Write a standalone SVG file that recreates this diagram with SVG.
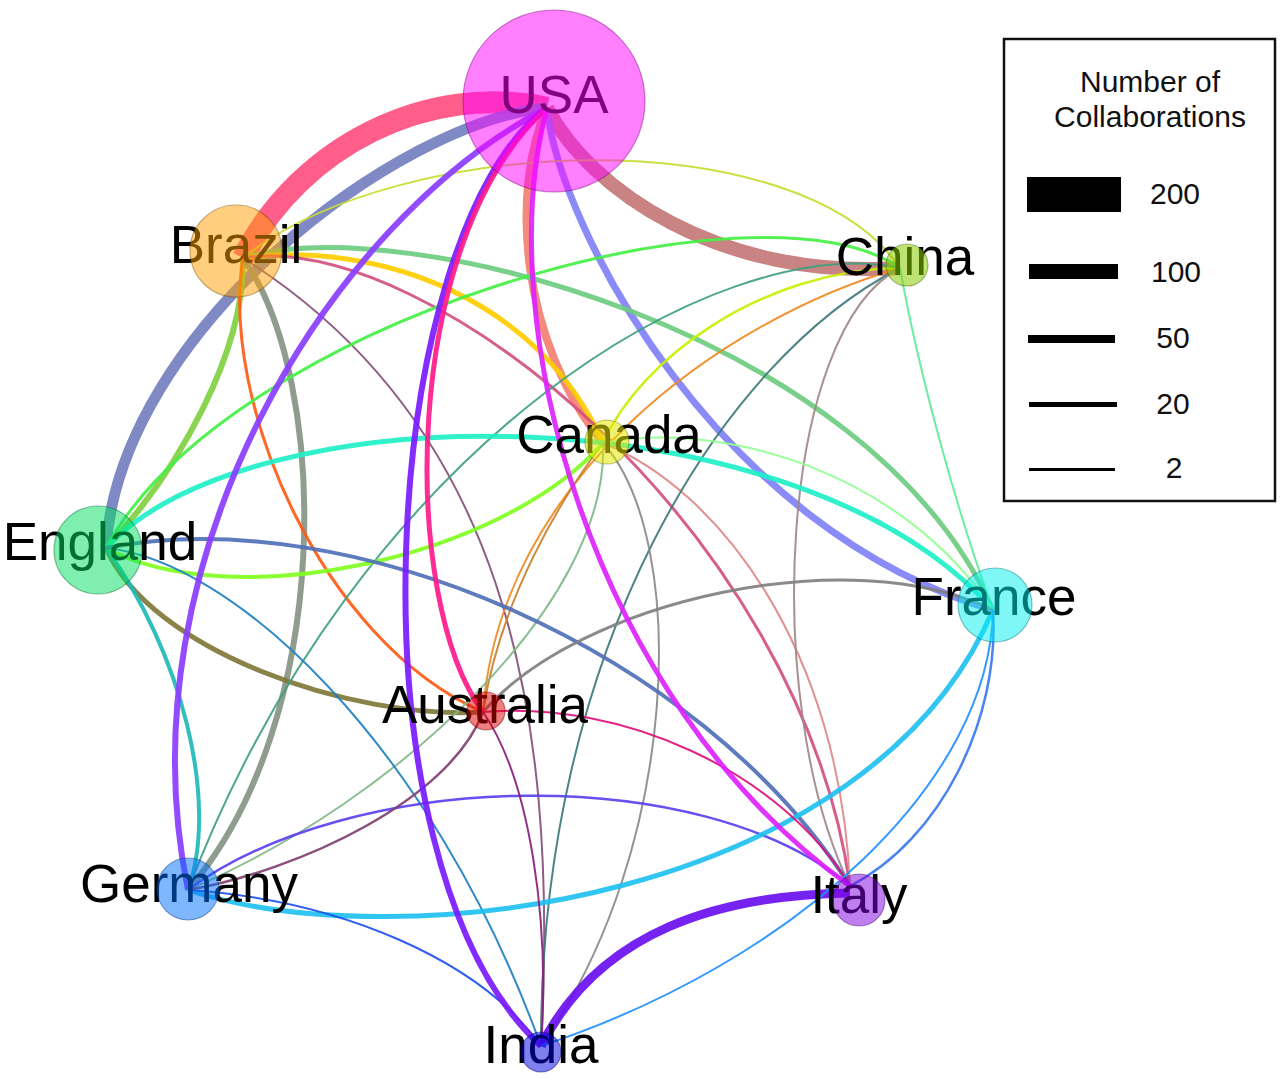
<svg xmlns="http://www.w3.org/2000/svg" width="1280" height="1079" viewBox="0 0 1280 1079">
<style>
.e{fill:none;stroke-linecap:butt;stroke-opacity:0.92}
.lbl{font-family:"Liberation Sans",Arial,sans-serif;font-size:53px;fill:#000;text-anchor:middle}
.n{stroke-width:1.2;stroke-opacity:0.45}
.lg{font-family:"Liberation Sans",Arial,sans-serif;font-size:30px;fill:#111;text-anchor:middle}
</style>
<rect width="1280" height="1079" fill="#fff"/>
<g id="connectors">
<path class="e" d="M547,108 C430,82 300,145 243,258" stroke="#ff5080" stroke-width="22"/>
<path class="e" d="M547,108 C400,120 120,330 106,548" stroke="#7480c0" stroke-width="11"/>
<path class="e" d="M547,108 C590,190 720,280 900,268" stroke="#c47878" stroke-width="14"/>
<path class="e" d="M547,108 C560,230 720,530 993,610" stroke="#8080f8" stroke-width="7"/>
<path class="e" d="M547,108 C510,190 520,340 603,443" stroke="#f28070" stroke-width="8"/>
<path class="e" d="M243,258 C245,350 180,470 106,548" stroke="#80d040" stroke-width="6"/>
<path class="e" d="M243,258 C330,380 335,720 188,890" stroke="#859585" stroke-width="6"/>
<path class="e" d="M106,548 C150,650 350,720 483,712" stroke="#807838" stroke-width="5"/>
<path class="e" d="M243,258 C400,132 800,120 900,268" stroke="#c8dc30" stroke-width="2"/>
<path class="e" d="M243,258 C400,210 870,330 993,610" stroke="#6ccc80" stroke-width="5"/>
<path class="e" d="M243,258 C380,240 540,300 603,443" stroke="#ffcc00" stroke-width="5"/>
<path class="e" d="M243,258 C430,230 800,530 850,886" stroke="#d25080" stroke-width="3"/>
<path class="e" d="M603,443 C720,490 840,650 850,886" stroke="#e08888" stroke-width="2"/>
<path class="e" d="M243,258 C500,420 560,700 541,1046" stroke="#84507a" stroke-width="2"/>
<path class="e" d="M243,258 C220,400 320,640 483,712" stroke="#ff5a14" stroke-width="3"/>
<path class="e" d="M900,268 C760,170 230,320 106,548" stroke="#44f044" stroke-width="3"/>
<path class="e" d="M900,268 C760,270 640,360 603,443" stroke="#c8f000" stroke-width="2.5"/>
<path class="e" d="M900,268 C720,320 500,480 483,712" stroke="#f08a20" stroke-width="2"/>
<path class="e" d="M603,443 C560,500 500,600 483,712" stroke="#c88030" stroke-width="2"/>
<path class="e" d="M900,268 C720,230 360,440 188,890" stroke="#40a080" stroke-width="2"/>
<path class="e" d="M900,268 C720,360 540,650 541,1046" stroke="#3f7a7a" stroke-width="2"/>
<path class="e" d="M900,268 C780,330 760,700 850,886" stroke="#a08888" stroke-width="2"/>
<path class="e" d="M900,268 C920,380 960,520 993,610" stroke="#60ec98" stroke-width="2"/>
<path class="e" d="M603,443 C500,560 230,615 106,548" stroke="#80ff20" stroke-width="4"/>
<path class="e" d="M106,548 C250,390 800,390 993,610" stroke="#20f0c8" stroke-width="5"/>
<path class="e" d="M603,443 C720,420 900,470 993,610" stroke="#90ff90" stroke-width="2"/>
<path class="e" d="M603,443 C610,600 400,800 188,890" stroke="#80b888" stroke-width="2"/>
<path class="e" d="M603,443 C690,540 680,850 541,1046" stroke="#8a8a8a" stroke-width="2"/>
<path class="e" d="M106,548 C180,650 220,800 188,890" stroke="#20b8b8" stroke-width="4"/>
<path class="e" d="M106,548 C230,560 430,740 541,1046" stroke="#2080c0" stroke-width="2"/>
<path class="e" d="M106,548 C350,500 700,650 850,886" stroke="#5070b8" stroke-width="4"/>
<path class="e" d="M188,890 C350,770 700,760 850,886" stroke="#5a40f0" stroke-width="2.5"/>
<path class="e" d="M188,890 C400,960 870,900 993,610" stroke="#20c0f0" stroke-width="5"/>
<path class="e" d="M188,890 C340,900 480,960 541,1046" stroke="#2050f0" stroke-width="2"/>
<path class="e" d="M483,712 C450,800 300,870 188,890" stroke="#804070" stroke-width="2.5"/>
<path class="e" d="M483,712 C620,700 780,770 850,886" stroke="#e0107a" stroke-width="2"/>
<path class="e" d="M483,712 C580,600 850,540 993,610" stroke="#808080" stroke-width="3"/>
<path class="e" d="M483,712 C530,780 550,920 541,1046" stroke="#8a2080" stroke-width="2"/>
<path class="e" d="M541,1046 C600,930 720,895 850,893" stroke="#6a10f0" stroke-width="9"/>
<path class="e" d="M993,610 C1000,720 940,840 850,886" stroke="#3a78f0" stroke-width="2.5"/>
<path class="e" d="M993,610 C990,780 800,960 541,1046" stroke="#2090ff" stroke-width="2"/>
<path class="e" d="M547,108 C330,220 120,560 188,890" stroke="#8a3cff" stroke-width="6"/>
<path class="e" d="M547,108 C380,230 340,860 541,1046" stroke="#7a1aff" stroke-width="6"/>
<path class="e" d="M547,108 C400,240 400,600 483,712" stroke="#ff1a8c" stroke-width="5"/>
<path class="e" d="M547,108 C490,320 590,700 850,886" stroke="#dd22ff" stroke-width="5"/>
</g>
<g id="node-usa"><text class="lbl" x="554" y="113">USA</text><circle class="n" cx="554" cy="101" r="91" fill="#ff00ff" fill-opacity="0.5" stroke="#800080"/></g>
<g id="node-brazil"><text class="lbl" x="236" y="263">Brazil</text><circle class="n" cx="236" cy="251" r="46" fill="#ffa000" fill-opacity="0.5" stroke="#805000"/></g>
<g id="node-china"><text class="lbl" x="905" y="275">China</text><circle class="n" cx="907" cy="265" r="21" fill="#88cc00" fill-opacity="0.55" stroke="#406000"/></g>
<g id="node-canada"><text class="lbl" x="609" y="453">Canada</text><circle class="n" cx="607" cy="442" r="22" fill="#e6e600" fill-opacity="0.55" stroke="#707000"/></g>
<g id="node-england"><text class="lbl" x="100" y="560">England</text><circle class="n" cx="98" cy="550" r="44" fill="#00e060" fill-opacity="0.5" stroke="#007030"/></g>
<g id="node-france"><text class="lbl" x="994" y="615">France</text><circle class="n" cx="995" cy="605" r="37" fill="#00f0f0" fill-opacity="0.5" stroke="#007878"/></g>
<g id="node-australia"><text class="lbl" x="485" y="723">Australia</text><circle class="n" cx="486" cy="711" r="19" fill="#e00000" fill-opacity="0.5" stroke="#700000"/></g>
<g id="node-germany"><text class="lbl" x="189" y="902">Germany</text><circle class="n" cx="188" cy="889" r="31" fill="#0070ff" fill-opacity="0.5" stroke="#003880"/></g>
<g id="node-italy"><text class="lbl" x="859" y="913">Italy</text><circle class="n" cx="859" cy="900" r="26" fill="#8000e0" fill-opacity="0.5" stroke="#400070"/></g>
<g id="node-india"><text class="lbl" x="541" y="1063">India</text><circle class="n" cx="541" cy="1052" r="20" fill="#0000e0" fill-opacity="0.5" stroke="#000070"/></g>
<g id="legend">
<rect x="1004" y="39" width="271" height="462" fill="#fff" stroke="#111" stroke-width="2.5"/>
<text class="lg" x="1150" y="92">Number of</text>
<text class="lg" x="1150" y="127">Collaborations</text>
<rect x="1027" y="177" width="94" height="35" fill="#000"/>
<rect x="1029" y="264" width="89" height="15" fill="#000"/>
<rect x="1028" y="335" width="87" height="8" fill="#000"/>
<rect x="1029" y="402" width="88" height="5" fill="#000"/>
<rect x="1029" y="468" width="86" height="3" fill="#000"/>
<text class="lg" x="1175" y="204">200</text>
<text class="lg" x="1176" y="282">100</text>
<text class="lg" x="1173" y="348">50</text>
<text class="lg" x="1173" y="414">20</text>
<text class="lg" x="1174" y="478">2</text>
</g>
</svg>
